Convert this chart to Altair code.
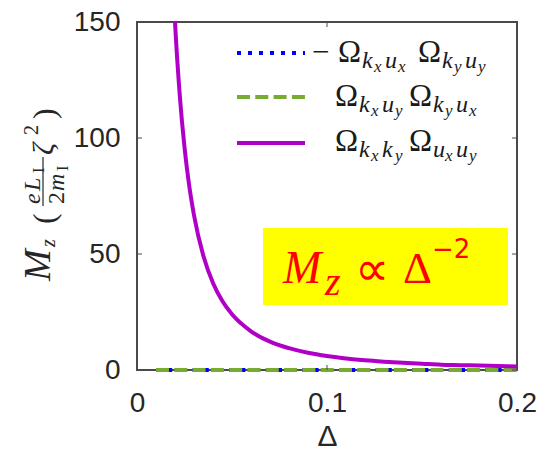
import altair as alt
import pandas as pd

# ---------------- data ----------------
delta_curve = [0.010, 0.015, 0.0175, 0.020, 0.0225, 0.025, 0.0275, 0.030, 0.035,
               0.040, 0.045, 0.050, 0.060, 0.070, 0.080, 0.090, 0.100, 0.110,
               0.120, 0.130, 0.140, 0.150, 0.160, 0.170, 0.180, 0.190, 0.200]
m_kxky_uxuy = [600, 267, 196, 150, 118.5, 96, 79.3, 66.7, 49,
               37.5, 29.6, 24, 16.7, 12.2, 9.4, 7.4, 6.0, 5.0,
               4.2, 3.6, 3.1, 2.7, 2.3, 2.1, 1.9, 1.7, 1.5]
delta_flat = [0.01, 0.2]
m_kxux_kyuy = [0.0, 0.0]
m_kxuy_kyux = [0.0, 0.0]
x_ticks = [0, 0.1, 0.2]
y_ticks = [0, 50, 100, 150]

W, H = 380, 348
BLUE, GREEN, PURPLE = "#0000FF", "#77AC30", "#B000C8"
AXC = "#262626"
TXT = "#1a1a1a"

df_blue = pd.DataFrame({"delta": delta_flat, "m": m_kxux_kyuy})
df_green = pd.DataFrame({"delta": delta_flat, "m": m_kxuy_kyux})
df_purple = pd.DataFrame({"delta": delta_curve, "m": m_kxky_uxuy})
df_xt = pd.DataFrame({"delta": x_ticks})
df_yt = pd.DataFrame({"m": y_ticks})
dummy = pd.DataFrame({"d": [0]})

xs = alt.Scale(domain=[0, 0.2], nice=False, zero=False)
ys = alt.Scale(domain=[0, 150], nice=False)

x_axis = alt.Axis(values=x_ticks, format="~g", title="Δ", labelFont="Liberation Sans",
                  labelFontSize=28, labelColor=AXC, labelPadding=19, titleFont="Liberation Sans",
                  titleFontSize=30, titleFontWeight="normal", titleColor=AXC,
                  titleBaseline="alphabetic", titleY=75,
                  grid=False, domain=False, ticks=False, labelFlush=False)
y_axis = alt.Axis(values=y_ticks, format="d", title="", labelFont="Liberation Sans",
                  labelFontSize=28, labelColor=AXC, labelPadding=17, grid=False,
                  domain=False, ticks=False, labelFlush=False)

X = alt.X("delta:Q", scale=xs, axis=x_axis)
Y = alt.Y("m:Q", scale=ys, axis=y_axis)

blue = alt.Chart(df_blue).mark_line(color=BLUE, strokeWidth=4, strokeDash=[4, 8.2]).encode(x=X, y=Y)
green = alt.Chart(df_green).mark_line(color=GREEN, strokeWidth=4, strokeDash=[13, 5.3]).encode(x=X, y=Y)
purple = alt.Chart(df_purple).mark_line(color=PURPLE, strokeWidth=4, clip=True,
                                        interpolate="monotone").encode(x=X, y=Y)

# inward ticks (MATLAB style)
tick_col = "#4a4a4a"
xt_bottom = alt.Chart(df_xt).mark_rule(color=tick_col, strokeWidth=1).encode(
    x=X, y=alt.value(H), y2=alt.value(H - 5))
xt_top = alt.Chart(df_xt).mark_rule(color=tick_col, strokeWidth=1).encode(
    x=X, y=alt.value(0), y2=alt.value(5))
yt_left = alt.Chart(df_yt).mark_rule(color=tick_col, strokeWidth=1).encode(
    y=Y, x=alt.value(0), x2=alt.value(5))
yt_right = alt.Chart(df_yt).mark_rule(color=tick_col, strokeWidth=1).encode(
    y=Y, x=alt.value(W - 5), x2=alt.value(W))


def txt(s, x, y, size, italic=False, font="Liberation Serif", color=TXT, angle=0):
    kw = dict(text=s, align="left", baseline="alphabetic", font=font, fontSize=size,
              fontStyle="italic" if italic else "normal", color=color)
    if angle:
        kw["angle"] = angle
    return alt.Chart(dummy).mark_text(**kw).encode(x=alt.value(x), y=alt.value(y))


layers = [blue, green, purple, xt_bottom, xt_top, yt_left, yt_right]

# ---------------- legend ----------------
def hline(x1, x2, y, color, dash=None):
    kw = dict(color=color, strokeWidth=4)
    if dash:
        kw["strokeDash"] = dash
    return alt.Chart(dummy).mark_rule(**kw).encode(
        x=alt.value(x1), x2=alt.value(x2), y=alt.value(y))

layers += [hline(100, 168, 31, BLUE, [4, 7]),
           hline(100, 168, 75, GREEN, [13, 5.3]),
           hline(100, 168, 121, PURPLE)]

OM, SUB, SS = 31, 24, 17


def omega_term(x, base, a, asub, b, bsub):
    out = [txt("Ω", x, base, OM)]
    s = x + 24
    out += [txt(a, s, base + 6, SUB, True), txt(asub, s + 12, base + 10, SS, True),
            txt(b, s + 23, base + 6, SUB, True), txt(bsub, s + 36, base + 10, SS, True)]
    return out

# row 1: −Ω_{kx ux} Ω_{ky uy}
layers += [txt("−", 175, 40, OM)]
layers += omega_term(201, 40, "k", "x", "u", "x")
layers += omega_term(201 + 80, 40, "k", "y", "u", "y")
# row 2: Ω_{kx uy} Ω_{ky ux}
layers += omega_term(198, 84, "k", "x", "u", "y")
layers += omega_term(198 + 74, 84, "k", "y", "u", "x")
# row 3: Ω_{kx ky} Ω_{ux uy}
layers += omega_term(198, 129, "k", "x", "k", "y")
layers += omega_term(198 + 74, 129, "u", "x", "u", "y")

# ---------------- annotation box ----------------
layers += [alt.Chart(dummy).mark_rect(color="#FFFF00").encode(
    x=alt.value(126), x2=alt.value(371), y=alt.value(206), y2=alt.value(283))]
RED = "#FF0000"
layers += [txt("M", 146, 261, 46, True, color=RED),
           txt("z", 188, 273, 40, True, color=RED),
           txt("∝", 218, 263, 48, False, font="DejaVu Sans", color=RED),
           txt("Δ", 266, 261, 45, False, color=RED),
           txt("−2", 295, 236, 26, False, font="DejaVu Sans", color=RED)]

# ---------------- y-axis title (rotated) ----------------
A = 270
layers += [txt("M", -87, 259, 38, True, color=AXC, angle=A),
           txt("z", -82, 225, 20, True, color=AXC, angle=A),
           txt("(", -82, 202, 32, False, color=AXC, angle=A),
           txt("e", -97, 182, 24, True, color=AXC, angle=A),
           txt("L", -97, 169, 24, True, color=AXC, angle=A),
           txt("I", -93, 151, 16, False, color=AXC, angle=A),
           txt("2", -73, 182, 24, False, color=AXC, angle=A),
           txt("m", -73, 169, 24, True, color=AXC, angle=A),
           txt("I", -69, 149, 16, False, color=AXC, angle=A),
           txt("ζ", -84, 133, 30, True, color=AXC, angle=A),
           txt("2", -99, 113, 20, False, color=AXC, angle=A),
           txt(")", -82, 97, 32, False, color=AXC, angle=A),
           alt.Chart(dummy).mark_rule(color=AXC, strokeWidth=1.2).encode(
               x=alt.value(-94), y=alt.value(135), y2=alt.value(184))]

chart = alt.layer(*layers).properties(
    width=W, height=H,
    autosize=alt.AutoSizeParams(type="none"),
    padding={"left": 129, "top": 14, "right": 20, "bottom": 78},
).configure(background="white", view=alt.ViewConfig(stroke="#4a4a4a", strokeWidth=2))

chart.save("out.html", embed_options={"renderer": "svg", "actions": False})
